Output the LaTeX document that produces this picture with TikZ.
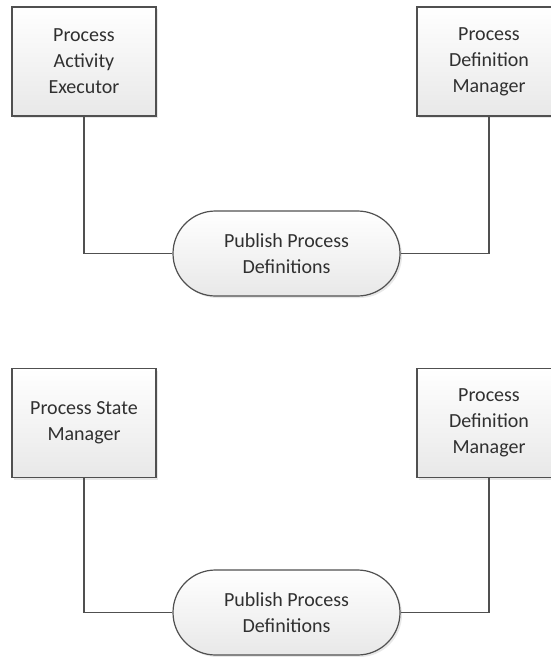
\documentclass[tikz,border=0pt]{standalone}
\usepackage{fontspec}
\setmainfont{Carlito}
\usetikzlibrary{shapes.misc,shadows}
\definecolor{edge}{HTML}{505050}
\definecolor{txt}{HTML}{303030}
\tikzset{
  base/.style={draw=edge, line width=1.2pt, top color=white, bottom color=black!9,
    text=txt, align=center, font=\fontsize{20}{26}\selectfont,
    drop shadow={opacity=0.18, shadow xshift=2pt, shadow yshift=-2pt}},
  actor/.style={base, rectangle, minimum width=144pt, minimum height=109pt, inner sep=0pt},
  usecase/.style={base, rounded rectangle, minimum width=227pt, minimum height=85pt, inner sep=0pt},
  link/.style={draw=edge, line width=1.2pt}
}
\begin{document}
\begin{tikzpicture}[x=1pt,y=1pt]
\clip (0,0) rectangle (551,-657);
\fill[white] (0,0) rectangle (551,-657);
% top diagram
\node[actor] (pae) at (84,-61.5) {Process\\Activity\\Executor};
\node[actor] (pdm1) at (489,-61.5) {Process\\Definition\\Manager};
\node[usecase] (ppd1) at (286.5,-253.5) {Publish Process\\Definitions};
\draw[link] (pae.south) |- (ppd1.west);
\draw[link] (ppd1.east) -| (pdm1.south);
% bottom diagram
\node[actor] (psm) at (84,-423) {Process State\\Manager};
\node[actor] (pdm2) at (489,-423) {Process\\Definition\\Manager};
\node[usecase] (ppd2) at (286.5,-612.5) {Publish Process\\Definitions};
\draw[link] (psm.south) |- (ppd2.west);
\draw[link] (ppd2.east) -| (pdm2.south);
\end{tikzpicture}
\end{document}
